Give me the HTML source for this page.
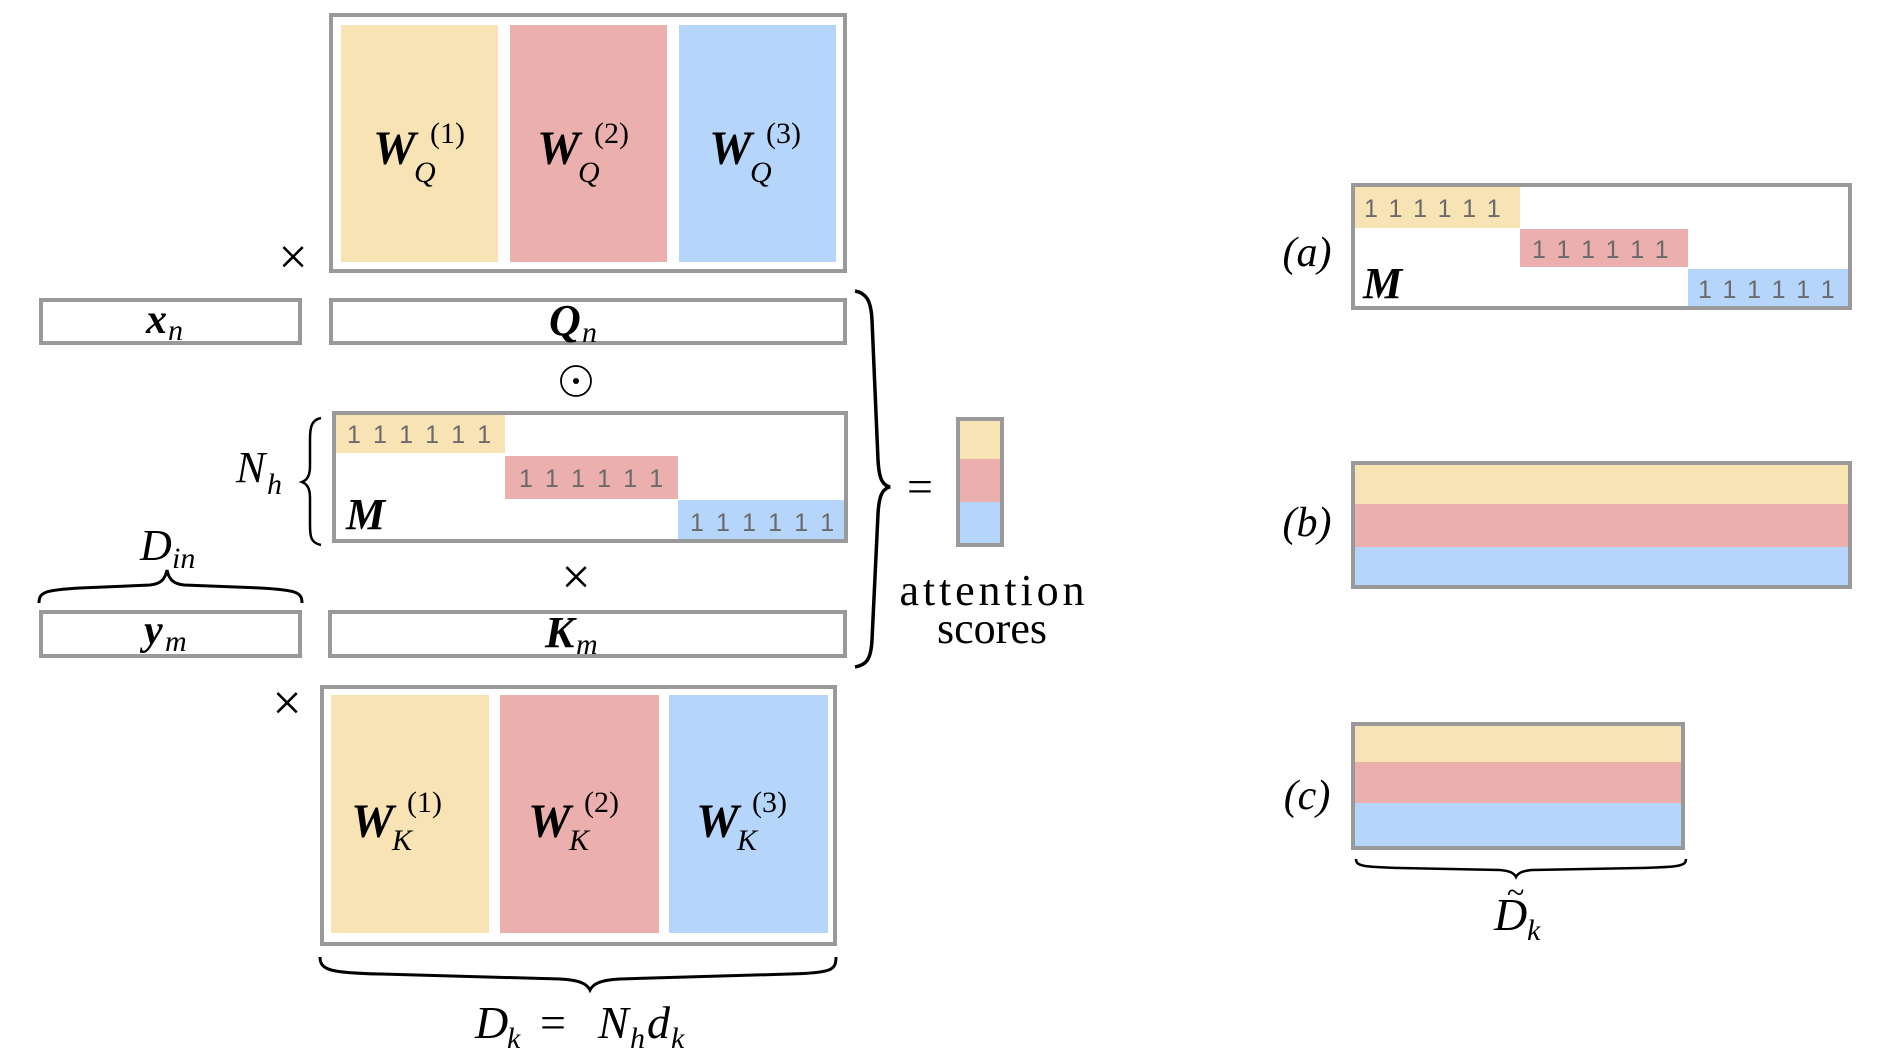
<!DOCTYPE html>
<html><head><meta charset="utf-8"><style>
html,body{margin:0;padding:0;background:#fff;}
svg{display:block;}
.m{font-family:"Liberation Serif",serif;font-style:italic;}
.b{font-family:"Liberation Serif",serif;font-style:italic;font-weight:bold;}
.r{font-family:"Liberation Serif",serif;}
.o{font-family:"Liberation Sans",sans-serif;font-size:25px;fill:#6a6a6a;}
</style></head><body>
<svg width="1896" height="1064" viewBox="0 0 1896 1064" xmlns="http://www.w3.org/2000/svg">
<g fill="none" stroke="#999" stroke-width="4">
<rect x="331" y="15" width="514" height="256" fill="#fff"/>
<rect x="322" y="687" width="513" height="257" fill="#fff"/>
</g>
<rect x="341" y="25" width="157" height="237" fill="#f8e3b5"/>
<rect x="510" y="25" width="157" height="237" fill="#ebb0ae"/>
<rect x="679" y="25" width="157" height="237" fill="#b5d5fb"/>
<rect x="331" y="695" width="158" height="238" fill="#f8e3b5"/>
<rect x="500" y="695" width="159" height="238" fill="#ebb0ae"/>
<rect x="669" y="695" width="159" height="238" fill="#b5d5fb"/>
<g font-size="48">
<text class="b" x="373" y="164">W</text><text class="m" x="414" y="182" font-size="30">Q</text><text class="r" x="430" y="143" font-size="30">(1)</text>
<text class="b" x="537" y="164">W</text><text class="m" x="578" y="182" font-size="30">Q</text><text class="r" x="594" y="143" font-size="30">(2)</text>
<text class="b" x="709" y="164">W</text><text class="m" x="750" y="182" font-size="30">Q</text><text class="r" x="766" y="143" font-size="30">(3)</text>
<text class="b" x="351" y="837">W</text><text class="m" x="392" y="850" font-size="30">K</text><text class="r" x="407" y="812" font-size="30">(1)</text>
<text class="b" x="528" y="837">W</text><text class="m" x="569" y="850" font-size="30">K</text><text class="r" x="584" y="812" font-size="30">(2)</text>
<text class="b" x="696" y="837">W</text><text class="m" x="737" y="850" font-size="30">K</text><text class="r" x="752" y="812" font-size="30">(3)</text>
</g>
<g fill="#fff" stroke="#999" stroke-width="4">
<rect x="41" y="300" width="259" height="43"/>
<rect x="331" y="300" width="514" height="43"/>
<rect x="41" y="612" width="259" height="44"/>
<rect x="330" y="612" width="515" height="44"/>
<rect x="334" y="413" width="512" height="128"/>
</g>
<text class="b" x="146" y="333" font-size="42">x</text><text class="m" x="168" y="340" font-size="30">n</text>
<text class="b" x="549" y="335" font-size="44">Q</text><text class="m" x="582" y="342" font-size="30">n</text>
<text class="b" x="144" y="644" font-size="42">y</text><text class="m" x="165" y="651" font-size="30">m</text>
<text class="b" x="545" y="647" font-size="44">K</text><text class="m" x="576" y="654" font-size="30">m</text>
<rect x="336" y="415" width="169" height="38" fill="#f8e3b5"/>
<rect x="505" y="456" width="173" height="43" fill="#ebb0ae"/>
<rect x="678" y="500" width="166" height="39" fill="#b5d5fb"/>
<text class="o" x="347" y="443" letter-spacing="14">111111</text>
<text class="o" x="519" y="487" letter-spacing="14">111111</text>
<text class="o" x="690" y="531" letter-spacing="14">111111</text>
<text class="b" x="346" y="529" font-size="44">M</text>
<text class="r" x="293" y="274" font-size="52" text-anchor="middle">×</text>
<text class="r" x="576" y="594" font-size="52" text-anchor="middle">×</text>
<text class="r" x="287" y="720" font-size="52" text-anchor="middle">×</text>
<circle cx="576" cy="381" r="15" fill="none" stroke="#000" stroke-width="1.8"/>
<circle cx="576" cy="381" r="3" fill="#000"/>
<text class="m" x="236" y="482" font-size="44">N</text><text class="m" x="267" y="494" font-size="30">h</text>
<path d="M321,418 C311,420 310,428 310,440 L310,466 C310,476 307,480 302,482 C307,484 310,488 310,498 L310,525 C310,537 311,543 321,545" fill="none" stroke="#000" stroke-width="2.5"/>
<text class="m" x="140" y="560" font-size="44">D</text><text class="m" x="172" y="568" font-size="30">in</text>
<path d="M39,603 C39,592 45,590 80,588 L150,585 C160,584 165,580 167,570 C169,580 174,584 184,585 L260,588 C296,590 302,592 302,603" fill="none" stroke="#000" stroke-width="3"/>
<path d="M320,957 C320,970 330,973 380,974 L560,979 C580,980 587,984 590,990 C593,984 600,980 620,979 L790,974 C832,973 836,970 836,957" fill="none" stroke="#000" stroke-width="3"/>
<text class="m" x="475" y="1038" font-size="46">D</text><text class="m" x="507" y="1048" font-size="30">k</text>
<text class="r" x="540" y="1038" font-size="46">=</text>
<text class="m" x="598" y="1038" font-size="46">N</text><text class="m" x="630" y="1048" font-size="30">h</text>
<text class="m" x="647" y="1038" font-size="46">d</text><text class="m" x="671" y="1048" font-size="30">k</text>
<path d="M855,291 C866,293 871,300 872,320 L878,460 C879,478 882,485 890,487 C882,489 879,496 878,514 L872,640 C871,660 866,665 855,667" fill="none" stroke="#000" stroke-width="3.5"/>
<text class="r" x="920" y="502" font-size="46" text-anchor="middle">=</text>
<rect x="958" y="419" width="44" height="40" fill="#f8e3b5"/>
<rect x="958" y="459" width="44" height="43" fill="#ebb0ae"/>
<rect x="958" y="502" width="44" height="43" fill="#b5d5fb"/>
<rect x="958" y="419" width="44" height="126" fill="none" stroke="#999" stroke-width="4"/>
<text class="r" x="992" y="605" font-size="44" text-anchor="middle" textLength="185">attention</text>
<text class="r" x="992" y="643" font-size="44" text-anchor="middle">scores</text>
<rect x="1353" y="185" width="497" height="123" fill="#fff" stroke="#999" stroke-width="4"/>
<rect x="1355" y="187" width="165" height="41" fill="#f8e3b5"/>
<rect x="1520" y="229" width="168" height="38" fill="#ebb0ae"/>
<rect x="1688" y="269" width="160" height="37" fill="#b5d5fb"/>
<text class="o" x="1364" y="217" letter-spacing="12.5" fill="#8a7a50">111111</text>
<text class="o" x="1532" y="258" letter-spacing="12.5" fill="#8a5050">111111</text>
<text class="o" x="1698" y="298" letter-spacing="12.5">111111</text>
<text class="b" x="1363" y="298" font-size="44">M</text>
<text class="m" x="1307" y="266" font-size="42" text-anchor="middle">(a)</text>
<rect x="1353" y="463" width="497" height="124" fill="#fff" stroke="#999" stroke-width="4"/>
<rect x="1355" y="465" width="493" height="39" fill="#f8e3b5"/>
<rect x="1355" y="504" width="493" height="43" fill="#ebb0ae"/>
<rect x="1355" y="547" width="493" height="38" fill="#b5d5fb"/>
<text class="m" x="1307" y="536" font-size="42" text-anchor="middle">(b)</text>
<rect x="1353" y="724" width="330" height="124" fill="#fff" stroke="#999" stroke-width="4"/>
<rect x="1355" y="726" width="326" height="36" fill="#f8e3b5"/>
<rect x="1355" y="762" width="326" height="41" fill="#ebb0ae"/>
<rect x="1355" y="803" width="326" height="43" fill="#b5d5fb"/>
<text class="m" x="1307" y="809" font-size="42" text-anchor="middle">(c)</text>
<path d="M1356,859 C1356,866 1362,867 1400,868 L1500,870 C1510,871 1514,873 1516,877 C1518,873 1522,871 1532,870 L1640,868 C1680,867 1686,866 1686,859" fill="none" stroke="#000" stroke-width="2.5"/>
<text class="m" x="1494" y="930" font-size="46">D</text><text class="m" x="1527" y="940" font-size="30">k</text>
<text class="r" x="1507" y="903" font-size="32">~</text>
</svg>
</body></html>
